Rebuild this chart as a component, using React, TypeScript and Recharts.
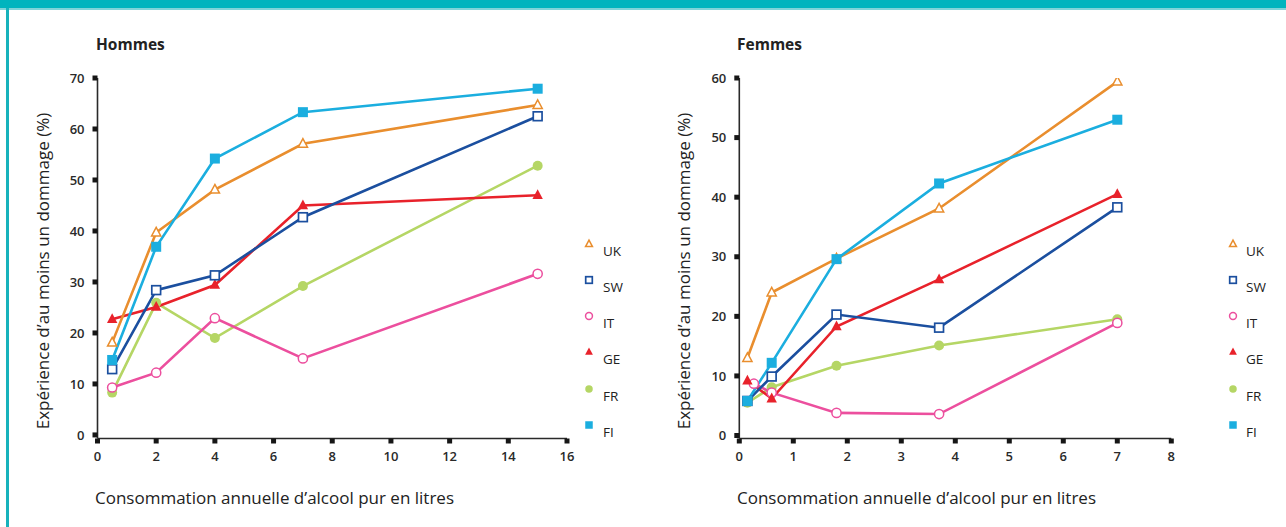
import React from 'react';
import { LineChart, Line, XAxis, YAxis } from 'recharts';

// ---------- data ----------
const countries = ['UK', 'SW', 'IT', 'GE', 'FR', 'FI'];

const hommesX = [0.5, 2, 4, 7, 15];
const hommesUK = [18.1, 39.7, 48.1, 57.1, 64.7];
const hommesSW = [12.9, 28.4, 31.3, 42.7, 62.5];
const hommesIT = [9.3, 12.2, 22.9, 15.0, 31.6];
const hommesGE = [22.7, 25.1, 29.4, 45.0, 47.0];
const hommesFR = [8.3, 25.9, 19.0, 29.2, 52.8];
const hommesFI = [14.7, 36.9, 54.2, 63.3, 67.9];

const femmesX = [0.15, 0.6, 1.8, 3.7, 7];
const femmesXIT = [0.27, 0.6, 1.8, 3.7, 7];
const femmesUK = [13.0, 24.0, 29.7, 38.1, 59.4];
const femmesSW = [5.8, 9.9, 20.3, 18.1, 38.3];
const femmesIT = [8.7, 7.2, 3.8, 3.6, 18.9];
const femmesGE = [9.2, 6.2, 18.3, 26.2, 40.5];
const femmesFR = [5.5, 8.1, 11.7, 15.1, 19.5];
const femmesFI = [5.8, 12.2, 29.6, 42.3, 53.0];

const hommesXTicks = [0, 2, 4, 6, 8, 10, 12, 14, 16];
const hommesYTicks = [0, 10, 20, 30, 40, 50, 60, 70];
const femmesXTicks = [0, 1, 2, 3, 4, 5, 6, 7, 8];
const femmesYTicks = [0, 10, 20, 30, 40, 50, 60];

const titleH = 'Hommes';
const titleF = 'Femmes';
const yLabel = 'Expérience d’au moins un dommage (%)';
const xLabel = 'Consommation annuelle d’alcool pur en litres';

// ---------- styles ----------
const colors: Record<string, string> = {
  UK: '#E98E2E',
  SW: '#1B4F9F',
  IT: '#EC4F9E',
  GE: '#E8222B',
  FR: '#B5D665',
  FI: '#1BAEDF',
};
const marker: Record<string, string> = {
  UK: 'triOpen',
  SW: 'sqOpen',
  IT: 'circOpen',
  GE: 'tri',
  FR: 'circ',
  FI: 'sq',
};
const drawOrder = ['FR', 'IT', 'GE', 'SW', 'UK', 'FI'];

const zip = (xs: number[], ys: number[]) => xs.map((x, i) => ({ x, y: ys[i] }));

const hommesSeries: Record<string, { x: number; y: number }[]> = {
  UK: zip(hommesX, hommesUK),
  SW: zip(hommesX, hommesSW),
  IT: zip(hommesX, hommesIT),
  GE: zip(hommesX, hommesGE),
  FR: zip(hommesX, hommesFR),
  FI: zip(hommesX, hommesFI),
};
const femmesSeries: Record<string, { x: number; y: number }[]> = {
  UK: zip(femmesX, femmesUK),
  SW: zip(femmesX, femmesSW),
  IT: zip(femmesXIT, femmesIT),
  GE: zip(femmesX, femmesGE),
  FR: zip(femmesX, femmesFR),
  FI: zip(femmesX, femmesFI),
};

function Symbol({ kind, color, cx, cy, s = 1 }: { kind: string; color: string; cx: number; cy: number; s?: number }) {
  switch (kind) {
    case 'triOpen':
      return (
        <polygon
          points={`${cx},${cy - 5.2 * s} ${cx + 4.6 * s},${cy + 3.4 * s} ${cx - 4.6 * s},${cy + 3.4 * s}`}
          fill="#fff"
          stroke={color}
          strokeWidth={1.5}
        />
      );
    case 'tri':
      return (
        <polygon
          points={`${cx},${cy - 6 * s} ${cx + 5.2 * s},${cy + 3.8 * s} ${cx - 5.2 * s},${cy + 3.8 * s}`}
          fill={color}
          stroke="none"
        />
      );
    case 'sqOpen':
      return (
        <rect x={cx - 4.4 * s} y={cy - 4.4 * s} width={8.8 * s} height={8.8 * s} fill="#fff" stroke={color} strokeWidth={1.7} />
      );
    case 'sq':
      return <rect x={cx - 5 * s} y={cy - 5 * s} width={10 * s} height={10 * s} fill={color} />;
    case 'circOpen':
      return <circle cx={cx} cy={cy} r={4.6 * s} fill="#fff" stroke={color} strokeWidth={1.5} />;
    case 'circ':
    default:
      return <circle cx={cx} cy={cy} r={5 * s} fill={color} />;
  }
}

const makeDot = (c: string) => (props: any) => {
  const { cx, cy, index } = props;
  if (cx == null || cy == null) return <g key={`${c}-${index}`} />;
  return (
    <g key={`${c}-${index}`}>
      <Symbol kind={marker[c]} color={colors[c]} cx={cx} cy={cy} />
    </g>
  );
};

const tickFont = {
  fontFamily: '"Open Sans", "Noto Sans", sans-serif',
  fontSize: 13,
  fontWeight: 600,
  fill: '#2a2a2a',
};
const axisLine = { stroke: '#2a2a2a', strokeWidth: 1.6 };
const tickLine = { stroke: '#161616', strokeWidth: 5 };

function Panel({
  series,
  xTicks,
  yTicks,
  xDomain,
  yDomain,
  width,
  margin,
}: {
  series: Record<string, { x: number; y: number }[]>;
  xTicks: number[];
  yTicks: number[];
  xDomain: [number, number];
  yDomain: [number, number];
  width: number;
  margin: { top: number; right: number; bottom: number; left: number };
}) {
  return (
    <LineChart width={width} height={527} margin={margin}>
      <XAxis
        type="number"
        dataKey="x"
        domain={xDomain}
        ticks={xTicks}
        allowDataOverflow
        height={30}
        axisLine={axisLine}
        tickLine={tickLine}
        tickSize={5}
        tickMargin={8}
        tick={tickFont}
        interval={0}
      />
      <YAxis
        type="number"
        dataKey="y"
        domain={yDomain}
        ticks={yTicks}
        allowDataOverflow
        width={40}
        axisLine={axisLine}
        tickLine={tickLine}
        tickSize={5}
        tickMargin={8}
        tick={tickFont}
        interval={0}
      />
      {drawOrder.map((c) => (
        <Line
          key={c}
          data={series[c]}
          dataKey="y"
          type="linear"
          stroke={colors[c]}
          strokeWidth={2.6}
          dot={makeDot(c)}
          activeDot={false}
          isAnimationActive={false}
          legendType="none"
        />
      ))}
    </LineChart>
  );
}

const textFont = '"Open Sans", "Noto Sans", sans-serif';

function Overlay() {
  const legendYs = [244, 280, 316, 352, 389, 425];
  const legend = (sx: number, lx: number) =>
    countries.map((c, i) => (
      <g key={`${sx}-${c}`}>
        <Symbol kind={marker[c]} color={colors[c]} cx={sx} cy={legendYs[i]} s={0.75} />
        <text x={lx} y={legendYs[i] + 12} fontFamily={textFont} fontSize={13.5} fill="#222">
          {c}
        </text>
      </g>
    ));
  return (
    <svg width={1286} height={527} style={{ position: 'absolute', left: 0, top: 0, pointerEvents: 'none' }}>
      <text x={96} y={50} fontFamily={textFont} fontSize={15.5} fontWeight={700} fill="#222">
        {titleH}
      </text>
      <text x={737} y={50} fontFamily={textFont} fontSize={15.5} fontWeight={700} fill="#222">
        {titleF}
      </text>
      <text
        x={0}
        y={0}
        transform="translate(49,271) rotate(-90)"
        textAnchor="middle"
        fontFamily={textFont}
        fontSize={17}
        fill="#222"
      >
        {yLabel}
      </text>
      <text
        x={0}
        y={0}
        transform="translate(690,271) rotate(-90)"
        textAnchor="middle"
        fontFamily={textFont}
        fontSize={17}
        fill="#222"
      >
        {yLabel}
      </text>
      <text x={95} y={504} fontFamily={textFont} fontSize={17} fill="#222">
        {xLabel}
      </text>
      <text x={737} y={504} fontFamily={textFont} fontSize={17} fill="#222">
        {xLabel}
      </text>
      {legend(589, 603)}
      {legend(1233, 1246)}
    </svg>
  );
}

export default function App() {
  return (
    <div style={{ position: 'relative', width: 1286, height: 527, background: '#fff', overflow: 'hidden' }}>
      <style>{'body{margin:0;}'}</style>
      <div style={{ position: 'absolute', left: 0, top: 0, width: 1286, height: 8, background: '#00B4BE' }} />
      <div style={{ position: 'absolute', left: 0, top: 8, width: 1286, height: 2, background: '#7FD4D9' }} />
      <div style={{ position: 'absolute', left: 6, top: 8, width: 3, height: 519, background: '#17B2BC' }} />
      <div style={{ position: 'absolute', left: 0, top: 0 }}>
        <Panel
          series={hommesSeries}
          xTicks={hommesXTicks}
          yTicks={hommesYTicks}
          xDomain={[0, 16]}
          yDomain={[-0.7, 70]}
          width={640}
          margin={{ top: 78, right: 73, bottom: 58.5, left: 57.5 }}
        />
      </div>
      <div style={{ position: 'absolute', left: 640, top: 0 }}>
        <Panel
          series={femmesSeries}
          xTicks={femmesXTicks}
          yTicks={femmesYTicks}
          xDomain={[0, 8]}
          yDomain={[-0.5, 60]}
          width={646}
          margin={{ top: 78, right: 114.7, bottom: 58.5, left: 59.3 }}
        />
      </div>
      <Overlay />
    </div>
  );
}
